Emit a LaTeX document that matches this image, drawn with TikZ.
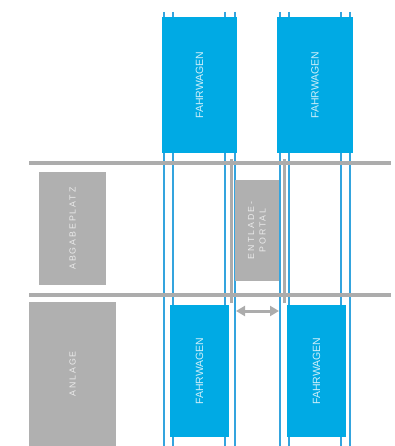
\documentclass[tikz,border=0pt]{standalone}
\usepackage{fontspec}
\setsansfont{Liberation Sans}
\newfontfamily\sperrsatz[LetterSpace=22]{Liberation Sans}
\usetikzlibrary{arrows.meta}
\definecolor{wagenblau}{RGB}{0,170,228}
\definecolor{gleisblau}{RGB}{52,164,222}
\definecolor{flaechengrau}{RGB}{176,176,176}
\definecolor{schienengrau}{RGB}{172,172,172}
\tikzset{
  wagen/.style={shape=rectangle,fill=wagenblau,inner sep=0pt,rotate=90,
    text=white!82!wagenblau,font=\sffamily\fontsize{10.5}{12}\selectfont},
  flaeche/.style={shape=rectangle,fill=flaechengrau,inner sep=0pt,rotate=90,
    text=white!75!flaechengrau,font=\sperrsatz\fontsize{8.8}{11.5}\selectfont,align=center},
  gleis/.style={draw=gleisblau,line width=1.3pt},
  schiene/.style={draw=schienengrau,line width=4pt},
  pfosten/.style={draw=schienengrau,line width=3pt},
  pfeil/.style={draw=schienengrau,line width=3pt,{Triangle[width=10pt,length=9pt]}-{Triangle[width=10pt,length=9pt]}}
}

\begin{document}
\begin{tikzpicture}[x=1pt,y=-1pt]
  \useasboundingbox (0,0) rectangle (395,446);

\foreach \x in {164,173,225,235,280,289,341,350}
  \draw[gleis] (\x,12) -- (\x,446);

  \draw[schiene] (29,163) -- (391,163);
  \draw[schiene] (29,295) -- (391,295);
  \draw[pfosten] (231,159) -- (231,303);
  \draw[pfosten] (284,159) -- (284,303);

      \node[wagen,minimum width=136pt,minimum height=75pt] (w1) at (199.5,85) {FAHRWAGEN};
      \node[wagen,minimum width=136pt,minimum height=76pt] (w2) at (315,85) {FAHRWAGEN};
      \node[wagen,minimum width=132pt,minimum height=59pt] (w3) at (199.5,371) {FAHRWAGEN};
      \node[wagen,minimum width=132pt,minimum height=59pt] (w4) at (316.5,371) {FAHRWAGEN};
      \node[flaeche,minimum width=113pt,minimum height=67pt] (abgabe) at (72.5,228.5) {ABGABEPLATZ};
      \node[flaeche,minimum width=144pt,minimum height=87pt] (anlage) at (72.5,374) {ANLAGE};
      \node[flaeche,minimum width=101pt,minimum height=44pt] (portal) at (257,230.5) {ENTLADE-\\PORTAL};

  \coordinate (links) at (236,311);
  \coordinate (rechts) at (279,311);
  \draw[pfeil] (links) -- (rechts);
    \end{tikzpicture}
\end{document}
